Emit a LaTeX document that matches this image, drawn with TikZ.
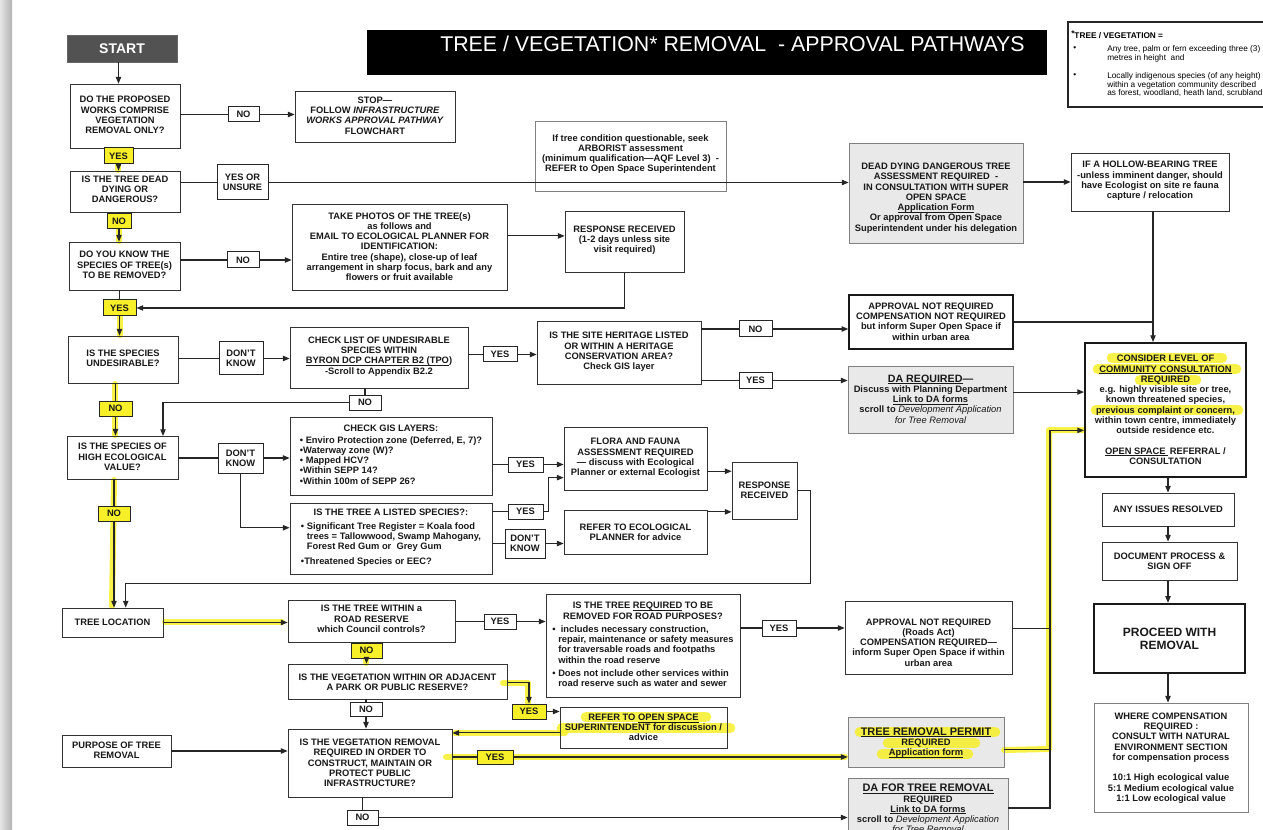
\documentclass[tikz,border=0pt]{standalone}
\usepackage{fontspec}
\setmainfont{Liberation Sans}
\usetikzlibrary{arrows.meta,calc}
\pgfdeclarelayer{bglayer}
\pgfdeclarelayer{hlayer}
\pgfsetlayers{bglayer,hlayer,main}
\definecolor{hlc}{RGB}{247,240,40}
\definecolor{boxgray}{RGB}{233,233,233}
\newsavebox{\ulbox}
\newcommand{\ulx}[1]{\sbox{\ulbox}{#1}\rlap{\raisebox{-1.3pt}{\rule{\wd\ulbox}{0.5pt}}}\usebox{\ulbox}}
\tikzset{
  txt/.style={font=\fontsize{7}{7.7}\selectfont\bfseries, align=center, inner sep=0pt, text=black!90},
  bxs/.style={draw=black!80, line width=0.6pt, inner sep=0pt},
  thk/.style={draw=black!90, line width=1.1pt, inner sep=0pt},
  thkk/.style={draw=black!90, line width=1.5pt, inner sep=0pt},
  lgt/.style={draw=black!50, line width=0.6pt, inner sep=0pt},
  lab/.style={draw=black!85, line width=0.75pt, inner sep=0pt},
  ylab/.style={lab, fill=hlc},
  ln/.style={draw=black!85, line width=0.8pt},
  arr/.style={-{Triangle[length=5pt,width=4pt]}},
  hlstroke/.style={draw=hlc, line width=4.5pt, line cap=round, line join=round, opacity=0.85},
  hltext/.style={draw=hlc, line width=8pt, line cap=round, opacity=0.85},
  lgfont/.style={font=\fontsize{6.2}{6.8}\selectfont, inner sep=0pt, anchor=west}
}
\newcommand{\bx}[8]{%
  \node[#1, minimum width={(#5-#3)*0.75pt}, minimum height={(#6-#4)*0.75pt}] (#2) at ({(#3+#5)/2},{(#4+#6)/2}) {};
  \node[txt] (#2-t) at ({(#3+#5)/2},#7) {#8};}
\newcommand{\gbx}[8]{%
  \bx{#1}{#2}{#3}{#4}{#5}{#6}{#7}{#8}%
  \begin{pgfonlayer}{bglayer}\fill[boxgray] (#2.south west) rectangle (#2.north east);\end{pgfonlayer}}
\begin{document}
\begin{tikzpicture}[x=0.75pt,y=-0.75pt]
\useasboundingbox (0,0) rectangle (1263,830);
\begin{pgfonlayer}{bglayer}
\fill[white] (0,0) rectangle (1263,830);
\shade[left color=gray!20, right color=gray!60] (0,0) rectangle (12,830);
\end{pgfonlayer}
\clip (0,0) rectangle (1263,830);

% title and legend
\bx{bxs,fill=black!68,draw=black!60}{start}{67}{35}{177}{62}{48.5}{\color{white}\fontsize{10.5}{11}\selectfont START}
\node[fill=black, minimum width={680*0.75pt}, minimum height={45*0.75pt}, inner sep=0pt] (title) at (707,52.5) {};
\node[anchor=base west, inner sep=0pt, text=white, font=\fontsize{16}{16}\selectfont] (titlet) at (440,52) {TREE / VEGETATION* REMOVAL~ - APPROVAL PATHWAYS};
\node[draw=black!85, line width=1.1pt, minimum width={220*0.75pt}, minimum height={85*0.75pt}, inner sep=0pt] (legend) at (1178,64.5) {};
\node[lgfont, font=\fontsize{6.2}{6.8}\selectfont\bfseries] (lg0) at (1071,35) {\raisebox{1.5pt}{*}TREE / VEGETATION =};
\node[lgfont] (lgb1) at (1073,49) {•};
\node[lgfont] (lg1a) at (1107,49) {Any tree, palm or fern exceeding three (3)};
\node[lgfont] (lg1b) at (1107,58) {metres in height~ and};
\node[lgfont] (lgb2) at (1073,76) {•};
\node[lgfont] (lg2a) at (1107,76) {Locally indigenous species (of any height)};
\node[lgfont] (lg2b) at (1107,85) {within a vegetation community described};
\node[lgfont] (lg2c) at (1107,93) {as forest, woodland, heath land, scrubland};

% top section
\bx{bxs}{q1}{70}{84}{180}{148}{115}{DO THE PROPOSED\\WORKS COMPRISE\\VEGETATION\\REMOVAL ONLY?}
\bx{lab}{no1}{228}{107}{259}{122}{114.5}{NO}
\bx{bxs}{stop}{295}{91}{455}{142}{115.5}{STOP—\\FOLLOW \textit{INFRASTRUCTURE}\\\textit{WORKS APPROVAL PATHWAY}\\FLOWCHART}
\bx{ylab}{yes1}{104}{148}{133}{164}{156}{YES}
\bx{bxs}{q2}{70}{171}{180}{212}{189.5}{IS THE TREE DEAD\\DYING OR\\DANGEROUS?}
\bx{lab}{yesun}{217}{165}{268}{200}{182}{YES OR\\UNSURE}
\bx{lgt}{arb}{535}{121}{726}{191}{154}{If tree condition questionable, seek\\ARBORIST assessment\\(minimum qualification—AQF Level 3)~~-\\REFER to Open Space Superintendent}
\gbx{lgt}{dead}{849}{143}{1023}{243}{198}{DEAD DYING DANGEROUS TREE\\ASSESSMENT REQUIRED~~-\\IN CONSULTATION WITH SUPER\\OPEN SPACE\\\ulx{Application Form}\\Or approval from Open Space\\Superintendent under his delegation}
\bx{bxs}{hollow}{1071}{153}{1229}{211}{181}{IF A HOLLOW-BEARING TREE\\-unless imminent danger, should\\have Ecologist on site re fauna\\capture / relocation}
\bx{ylab}{no2}{107}{214}{131}{229}{221.5}{NO}
\bx{bxs}{q3}{69}{242}{180}{290}{265}{DO YOU KNOW THE\\SPECIES OF TREE(s)\\TO BE REMOVED?}
\bx{lab}{no3}{227}{252}{259}{268}{260}{NO}
\bx{bxs}{photos}{292}{204}{507}{290}{246.5}{TAKE PHOTOS OF THE TREE(s)\\as follows and\\EMAIL TO ECOLOGICAL PLANNER FOR\\IDENTIFICATION:\\Entire tree (shape), close-up of leaf\\arrangement in sharp focus, bark and any\\flowers or fruit available}
\bx{bxs}{resp1}{565}{211}{684}{272}{240}{RESPONSE RECEIVED\\(1-2 days unless site\\visit required)}
\bx{ylab}{yes3}{103}{300}{136}{316}{308}{YES}

% middle section
\bx{bxs}{q4}{68}{336}{178}{383}{358}{IS THE SPECIES\\UNDESIRABLE?}
\bx{lab}{dk1}{219}{342}{263}{375}{358.5}{DON’T\\KNOW}
\bx{bxs}{check}{290}{327}{468}{388}{356.5}{CHECK LIST OF UNDESIRABLE\\SPECIES WITHIN\\\ulx{BYRON DCP CHAPTER B2 (TPO})\\-Scroll to Appendix B2.2}
\bx{lab}{nochk}{349}{395}{381}{410}{402.5}{NO}
\bx{lab}{yeschk}{483}{347}{517}{362}{354.5}{YES}
\bx{bxs}{heritage}{537}{321}{701}{384}{352}{IS THE SITE HERITAGE LISTED\\OR WITHIN A HERITAGE\\CONSERVATION AREA?\\Check GIS layer}
\bx{lab}{noher}{739}{321}{772}{337}{329}{NO}
\bx{lab}{yesher}{739}{373}{772}{388}{380.5}{YES}
\bx{thk}{appr1}{849}{295}{1013}{349}{321.5}{APPROVAL NOT REQUIRED\\COMPENSATION NOT REQUIRED\\but inform Super Open Space if\\within urban area}
\gbx{lgt}{dareq}{848}{366}{1013}{433}{399}{{\fontsize{8}{8}\selectfont\ulx{DA REQUIRED}—}\\Discuss with Planning Department\\\ulx{Link to DA forms}\\scroll to {\mdseries\itshape Development Application}\\{\mdseries\itshape for Tree Removal}}
\bx{thkk}{consider}{1085}{343}{1246}{477}{410}{CONSIDER LEVEL OF\\\ulx{COMMUNITY CONSULTATION}\\REQUIRED\\e.g. highly visible site or tree,\\known threatened species,\\previous complaint or concern,\\within town centre, immediately\\outside residence etc.\\[7.7pt]\ulx{OPEN SPACE\ }\,REFERRAL /\\CONSULTATION}
\bx{bxs}{issues}{1102}{493}{1234}{526}{509.5}{ANY ISSUES RESOLVED}
\bx{bxs}{doc}{1102}{542}{1237}{580}{561}{DOCUMENT PROCESS \&\\SIGN OFF}
\node[thkk, line width=1.8pt, minimum width={151*0.75pt}, minimum height={69*0.75pt}] (proceed) at (1169.5,638.5) {};
\node[txt, font=\fontsize{9}{9.9}\selectfont\bfseries] (proceed-t) at (1169.5,638.5) {PROCEED WITH\\REMOVAL};
\bx{lgt}{comp}{1094}{703}{1248}{812}{758}{WHERE COMPENSATION\\REQUIRED :\\CONSULT WITH NATURAL\\ENVIRONMENT SECTION\\for compensation process\\[7.7pt]10:1 High ecological value\\5:1 Medium ecological value\\1:1 Low ecological value}
\bx{ylab}{no4}{99}{401}{132}{416}{408.5}{NO}
\bx{bxs}{q5}{67}{436}{178}{479}{457}{IS THE SPECIES OF\\HIGH ECOLOGICAL\\VALUE?}
\bx{lab}{dk2}{218}{443}{263}{473}{458}{DON’T\\KNOW}
\bx{bxs}{gis}{290}{417}{492}{495}{455.5}{\begin{tabular}{@{}l@{}}\multicolumn{1}{@{}c@{}}{CHECK GIS LAYERS:}\\[1.3pt] • Enviro Protection zone (Deferred, E, 7)?\\•Waterway zone (W)?\\• Mapped HCV?\\•Within SEPP 14?\\•Within 100m of SEPP 26?\end{tabular}}
\bx{bxs}{listed}{290}{503}{492}{574}{538}{\begin{tabular}{@{}l@{}}\multicolumn{1}{@{}c@{}}{IS THE TREE A LISTED SPECIES?:}\\[2.7pt] • Significant Tree Register = Koala food\\\hphantom{• }trees = Tallowwood, Swamp Mahogany,\\\hphantom{• }Forest Red Gum or~ Grey Gum\\[3.5pt] •Threatened Species or EEC?\end{tabular}}
\bx{lab}{yesgis}{508}{457}{543}{472}{464.5}{YES}
\bx{lab}{yeslist}{508}{504}{543}{519}{511.5}{YES}
\bx{lab}{dklist}{505}{529}{545}{558}{543.5}{DON’T\\KNOW}
\bx{bxs}{flora}{564}{427}{707}{490}{458}{FLORA AND FAUNA\\ASSESSMENT REQUIRED\\— discuss with Ecological\\Planner or external Ecologist}
\bx{bxs}{refer}{564}{510}{707}{554}{532}{REFER TO ECOLOGICAL\\PLANNER for advice}
\bx{bxs}{resp2}{732}{462}{797}{519}{490}{RESPONSE\\RECEIVED}
\bx{ylab}{no5}{98}{506}{130}{521}{513.5}{NO}

% bottom section
\bx{bxs}{treeloc}{62}{608}{163}{637}{622.5}{TREE LOCATION}
\bx{bxs}{road}{288}{600}{455}{642}{619}{IS THE TREE WITHIN a\\ROAD RESERVE\\which Council controls?}
\bx{lab}{yesroad}{484}{614}{516}{629}{621.5}{YES}
\bx{bxs}{roadpurp}{546}{594}{740}{697}{645.5}{\begin{tabular}{@{}l@{}}\multicolumn{1}{@{}c@{}}{IS THE TREE \ulx{REQUIRED} TO BE}\\[0.6pt]\multicolumn{1}{@{}c@{}}{REMOVED FOR ROAD PURPOSES?}\\[1.8pt] •~ includes necessary construction,\\\hphantom{• }repair, maintenance or safety measures\\\hphantom{• }for traversable roads and footpaths\\\hphantom{• }within the road reserve\\[2.2pt] • Does not include other services within\\\hphantom{• }road reserve such as water and sewer\end{tabular}}
\bx{lab}{yesrp}{762}{620}{796}{636}{628}{YES}
\bx{bxs}{apprroads}{845}{601}{1012}{674}{642.5}{APPROVAL NOT REQUIRED\\(Roads Act)\\COMPENSATION REQUIRED—\\inform Super Open Space if within\\urban area}
\bx{ylab}{noroad}{351}{643}{382}{658}{650.5}{NO}
\bx{bxs}{park}{288}{664}{507}{699}{682.5}{IS THE VEGETATION WITHIN OR ADJACENT\\A PARK OR PUBLIC RESERVE?}
\bx{ylab}{yespark}{512}{704}{546}{719}{711.5}{YES}
\bx{lab}{nopark}{350}{702}{382}{716}{709}{NO}
\bx{bxs}{referos}{560}{707}{727}{748}{727.5}{REFER TO \ulx{OPEN SPACE}\\SUPERINTENDENT for discussion /\\advice}
\bx{bxs}{infra}{288}{729}{452}{797}{763}{IS THE VEGETATION REMOVAL\\REQUIRED IN ORDER TO\\CONSTRUCT, MAINTAIN OR\\PROTECT PUBLIC\\INFRASTRUCTURE?}
\bx{bxs}{purpose}{62}{735}{171}{767}{750}{PURPOSE OF TREE\\REMOVAL}
\bx{ylab}{yesinfra}{477}{750}{513}{764}{757}{YES}
\bx{lab}{noinfra}{347}{810}{378}{825}{817.5}{NO}
\gbx{lgt}{trp}{848}{717}{1004}{767}{742.5}{{\fontsize{8.2}{8}\selectfont\ulx{TREE REMOVAL PERMIT}}\\REQUIRED\\\ulx{Application form}}
\gbx{lgt}{datr}{848}{778}{1008}{838}{808.5}{{\fontsize{8.2}{8}\selectfont\ulx{DA FOR TREE REMOVAL}}\\REQUIRED\\\ulx{Link to DA forms}\\scroll to {\mdseries\itshape Development Application}\\{\mdseries\itshape for Tree Removal}}

% highlighter strokes
\begin{pgfonlayer}{hlayer}
\draw[hlstroke] (118,164) -- (118,170);
\draw[hlstroke] (119,229) -- (119,241);
\draw[hlstroke] (120,316) -- (120,335);
\draw[hlstroke] (115,384) -- (115,435);
\draw[hlstroke] (114,480) -- (112,606);
\draw[hlstroke] (165,622) -- (282,622);
\draw[hlstroke] (366,659) -- (366,663);
\draw[hlstroke] (503,683) -- (528,683) -- (528,703);
\draw[hlstroke] (455,733) -- (565,733);
\draw[hlstroke] (446,757) -- (845,757);
\draw[hlstroke] (1004,750) -- (1049,749) -- (1049,430) -- (1083,430);
\draw[hltext] (1112,358) -- (1222,358);
\draw[hltext] (1098,369) -- (1236,369);
\draw[hltext] (1140,380) -- (1196,380);
\draw[hltext] (1096,410) -- (1238,410);
\draw[hltext] (586,717) -- (706,717);
\draw[hltext] (562,728) -- (730,728);
\draw[hltext] (860,732) -- (995,732);
\draw[hltext] (888,743) -- (975,743);
\draw[hltext] (882,754) -- (968,754);
\end{pgfonlayer}

% helper coordinates
\coordinate (q5in) at (163,436);
\coordinate (vx) at (1153,0);
\coordinate (vx2) at (1050,0);
\coordinate (r1in) at ($(resp1.north west)!0.41!(resp1.south west)$);
\coordinate (dq) at ($(dareq.north east)!0.39!(dareq.south east)$);
\coordinate (lin) at ($(listed.north west)!0.35!(listed.south west)$);
\coordinate (fin) at ($(flora.north west)!0.8!(flora.south west)$);
\coordinate (f1) at ($(flora.north east)!0.7!(flora.south east)$);
\coordinate (f2) at ($(refer.north east)!0.05!(refer.south east)$);
\coordinate (tl) at ($(treeloc.north west)!0.63!(treeloc.north east)$);
\coordinate (p1) at ($(park.north east)!0.52!(park.south east)$);
\coordinate (r2) at ($(referos.north west)!0.63!(referos.south west)$);
\coordinate (a2) at ($(apprroads.north east)!0.38!(apprroads.south east)$);
\coordinate (t2) at ($(trp.north east)!0.64!(trp.south east)$);
\coordinate (cin) at ($(consider.north west)!0.65!(consider.south west)$);

% connectors
\draw[ln,arr] (yes1 |- start.south) -- (yes1 |- q1.north);
\draw[ln] (yes1 |- q1.south) -- (yes1.north);
\draw[ln,arr] (yes1.south) -- (yes1 |- q2.north);
\draw[ln] (q1.east |- no1) -- (no1.west);
\draw[ln,arr] (no1.east) -- (stop.west |- no1);
\draw[ln] (q2.east |- yesun) -- (yesun.west);
\draw[ln,arr] (yesun.east) -- (dead.west |- yesun);
\draw[ln,arr] (dead.east |- hollow) -- (hollow.west);
\draw[ln] (no2 |- q2.south) -- (no2.north);
\draw[ln,arr] (no2.south) -- (no2 |- q3.north);
\draw[ln] (q3.east |- no3) -- (no3.west);
\draw[ln,arr] (no3.east) -- (photos.west |- no3);
\draw[ln,arr] (photos.east |- r1in) -- (r1in);
\draw[ln,arr] (resp1.south) |- (yes3.east);
\draw[ln] (yes3 |- q3.south) -- (yes3.north);
\draw[ln,arr] (yes3.south) -- (yes3 |- q4.north);
\draw[ln] (q4.east |- dk1) -- (dk1.west);
\draw[ln,arr] (dk1.east) -- (check.west |- dk1);
\draw[ln] (check.east |- yeschk) -- (yeschk.west);
\draw[ln,arr] (yeschk.east) -- (heritage.west |- yeschk);
\draw[ln] (nochk |- check.south) -- (nochk.north);
\draw[ln,arr] (nochk.west) -| (q5in);
\draw[ln] (heritage.east |- noher) -- (noher.west);
\draw[ln,arr] (noher.east) -- (appr1.west |- noher);
\draw[ln] (heritage.east |- yesher) -- (yesher.west);
\draw[ln,arr] (yesher.east) -- (dareq.west |- yesher);
\draw[ln] (appr1.east) -- (vx |- appr1.east);
\draw[ln,arr] (vx |- hollow.south) -- (vx |- consider.north);
\draw[ln,arr] (dq) -- (consider.west |- dq);
\draw[ln,arr] (consider.south -| issues) -- (issues.north);
\draw[ln,arr] (issues.south) -- (issues.south |- doc.north);
\draw[ln,arr] (issues.south |- doc.south) -- (issues.south |- proceed.north);
\draw[ln,arr] (issues.south |- proceed.south) -- (issues.south |- comp.north);
\draw[ln] (no4 |- q4.south) -- (no4.north);
\draw[ln,arr] (no4.south) -- (no4 |- q5.north);
\draw[ln] (q5.east |- dk2) -- (dk2.west);
\draw[ln,arr] (dk2.east) -- (gis.west |- dk2);
\draw[ln,arr] (dk2.south) |- (lin);
\draw[ln] (gis.east |- yesgis) -- (yesgis.west);
\draw[ln,arr] (yesgis.east) -- (flora.west |- yesgis);
\draw[ln] (listed.east |- yeslist) -- (yeslist.west);
\draw[ln,arr] (yeslist.east) -- ++(5,0) |- (fin);
\draw[ln] (listed.east |- dklist) -- (dklist.west);
\draw[ln,arr] (dklist.east) -- (refer.west |- dklist);
\draw[ln,arr] (f1) -- (f1 -| resp2.west);
\draw[ln,arr] (f2) -- (f2 -| resp2.west);
\draw[ln,arr] (resp2.east) -- ++(13,0) |- ($(tl)+(0,-24)$) -- (tl);
\draw[ln] (no5 |- q5.south) -- (no5.north);
\draw[ln,arr] (no5.south) -- (no5 |- treeloc.north);
\draw[ln,arr] (treeloc.east) -- (road.west |- treeloc.east);
\draw[ln] (road.east |- yesroad) -- (yesroad.west);
\draw[ln,arr] (yesroad.east) -- (roadpurp.west |- yesroad);
\draw[ln] (roadpurp.east |- yesrp) -- (yesrp.west);
\draw[ln,arr] (yesrp.east) -- (apprroads.west |- yesrp);
\draw[ln] (noroad |- road.south) -- (noroad.north);
\draw[ln,arr] (noroad.south) -- (noroad |- park.north);
\draw[ln,arr] (p1) -| (yespark.north);
\draw[ln,arr] (yespark.east) -- (referos.west |- yespark);
\draw[ln,arr] (r2) -- (r2 -| infra.east);
\draw[ln] (nopark |- park.south) -- (nopark.north);
\draw[ln,arr] (nopark.south) -- (nopark |- infra.north);
\draw[ln,arr] (purpose.east) -- (infra.west |- purpose.east);
\draw[ln] (infra.east |- yesinfra) -- (yesinfra.west);
\draw[ln,arr] (yesinfra.east) -- (trp.west |- yesinfra);
\draw[ln] (noinfra |- infra.south) -- (noinfra.north);
\draw[ln,arr] (noinfra.east) -- (datr.west |- noinfra);
\draw[ln] (a2) -- (vx2 |- a2);
\draw[ln] (t2) -- (vx2 |- t2);
\draw[ln,arr] (datr.east) -| (vx2 |- cin) -- (cin);
\end{tikzpicture}
\end{document}
